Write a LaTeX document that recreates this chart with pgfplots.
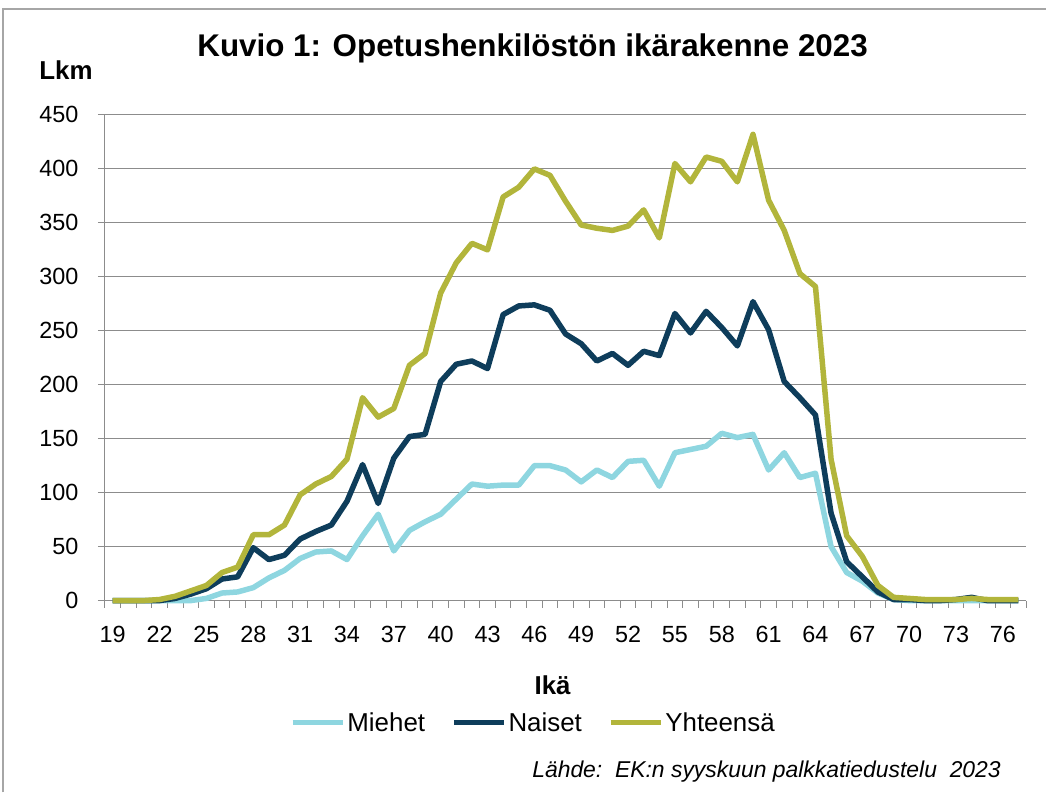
\documentclass[border=0pt]{standalone}
\usepackage{pgfplots}
\pgfplotsset{compat=1.18}
\usepackage{pgfplotstable}
\usepackage{fontspec}
\setmainfont{Liberation Sans}
\definecolor{miehet}{HTML}{8ED6E0}
\definecolor{naiset}{HTML}{0E3D5B}
\definecolor{yht}{HTML}{B2B53B}
\definecolor{gridc}{HTML}{8C8C8C}
\definecolor{framec}{HTML}{A6A6A6}

\pgfplotstableread{
age M N Y
19 0 0 0
20 0 0 0
21 0 0 0
22 0 0 1
23 0 2 4
24 0 6 9
25 2 11 14
26 7 20 26
27 8 22 31
28 12 49 61
29 21 38 61
30 28 42 70
31 39 57 98
32 45 64 108
33 46 70 115
34 38 92 131
35 60 126 188
36 80 90 170
37 46 132 178
38 65 152 218
39 73 154 229
40 80 203 285
41 94 219 313
42 108 222 331
43 106 215 325
44 107 265 374
45 107 273 383
46 125 274 400
47 125 269 394
48 121 247 370
49 110 238 348
50 121 222 345
51 114 229 343
52 129 218 347
53 130 231 362
54 106 227 336
55 137 266 405
56 140 248 388
57 143 268 411
58 155 253 407
59 151 236 388
60 154 277 432
61 121 251 371
62 137 203 343
63 114 188 303
64 118 172 291
65 50 81 131
66 26 36 60
67 18 22 41
68 7 8 14
69 1 1 3
70 0 1 2
71 0 0 1
72 0 0 1
73 0 1 1
74 0 3 2
75 0 0 1
76 0 0 1
77 0 0 1
}\data

\begin{document}
\begin{tikzpicture}
\begin{axis}[
  width=922bp, height=486bp, scale only axis,
  xmin=18.5, xmax=77.5, ymin=0, ymax=450,
  xtick={19,22,...,76},
  minor xtick={18.5,19.5,...,77.5},
  ytick={0,50,...,450},
  ymajorgrids,
  major grid style={gridc, line width=1bp},
  axis x line*=bottom, axis y line*=left,
  axis line style={gridc, line width=1bp, -},
  every major x tick/.style={draw=none},
  every minor x tick/.style={gridc, line width=1bp},
  every major y tick/.style={gridc, line width=1bp},
  tick align=outside,
  major tick length=7bp,
  minor tick length=7bp,
  /pgf/number format/assume math mode=true,
  tick label style={font=\fontsize{23.5}{24}\selectfont},
  yticklabel style={xshift=-16bp},
  xticklabel style={yshift=-15bp},
  clip=false,
  legend style={at={(0.465,-0.251)}, anchor=center, draw=none, fill=none,
    legend columns=3, font=\fontsize{26}{27}\selectfont,
    nodes={inner xsep=2bp},
    /tikz/every even column/.append style={column sep=24bp}},
  legend image code/.code={\draw[#1, line width=5.5bp] (0bp,0bp) -- (50bp,0bp);},
  every axis plot/.append style={line width=5.5bp, line join=round, no markers},
]
\addplot[miehet] table[x=age, y=M] {\data};
\addlegendentry{Miehet}
\addplot[naiset] table[x=age, y=N] {\data};
\addlegendentry{Naiset}
\addplot[yht] table[x=age, y=Y] {\data};
\addlegendentry{Yhteensä}
% page extent and frame (positions from the reference, in rel axis units)
\path (rel axis cs:-0.11388,1.23663) rectangle (rel axis cs:1.02169,-0.39506);
\draw[framec, line width=1.5bp] (rel axis cs:-0.11063,-0.39506) -- (rel axis cs:-0.11063,1.21811) -- (rel axis cs:1.02169,1.21811);
\node[font=\bfseries\fontsize{31.5}{33}\selectfont] at (rel axis cs:0.46421,1.13786) {Kuvio 1: Opetushenkilöstön ikärakenne 2023};
\node[font=\bfseries\fontsize{26}{27}\selectfont] at (rel axis cs:-0.0423,1.09259) {Lkm};
\node[font=\bfseries\fontsize{26}{27}\selectfont] at (rel axis cs:0.4859,-0.1749) {Ikä};
\node[font=\itshape\fontsize{23}{24}\selectfont, anchor=east] at (rel axis cs:0.97614,-0.35185) {Lähde:\ \ EK:n syyskuun palkkatiedustelu\ \ 2023};
\end{axis}
\end{tikzpicture}
\end{document}
